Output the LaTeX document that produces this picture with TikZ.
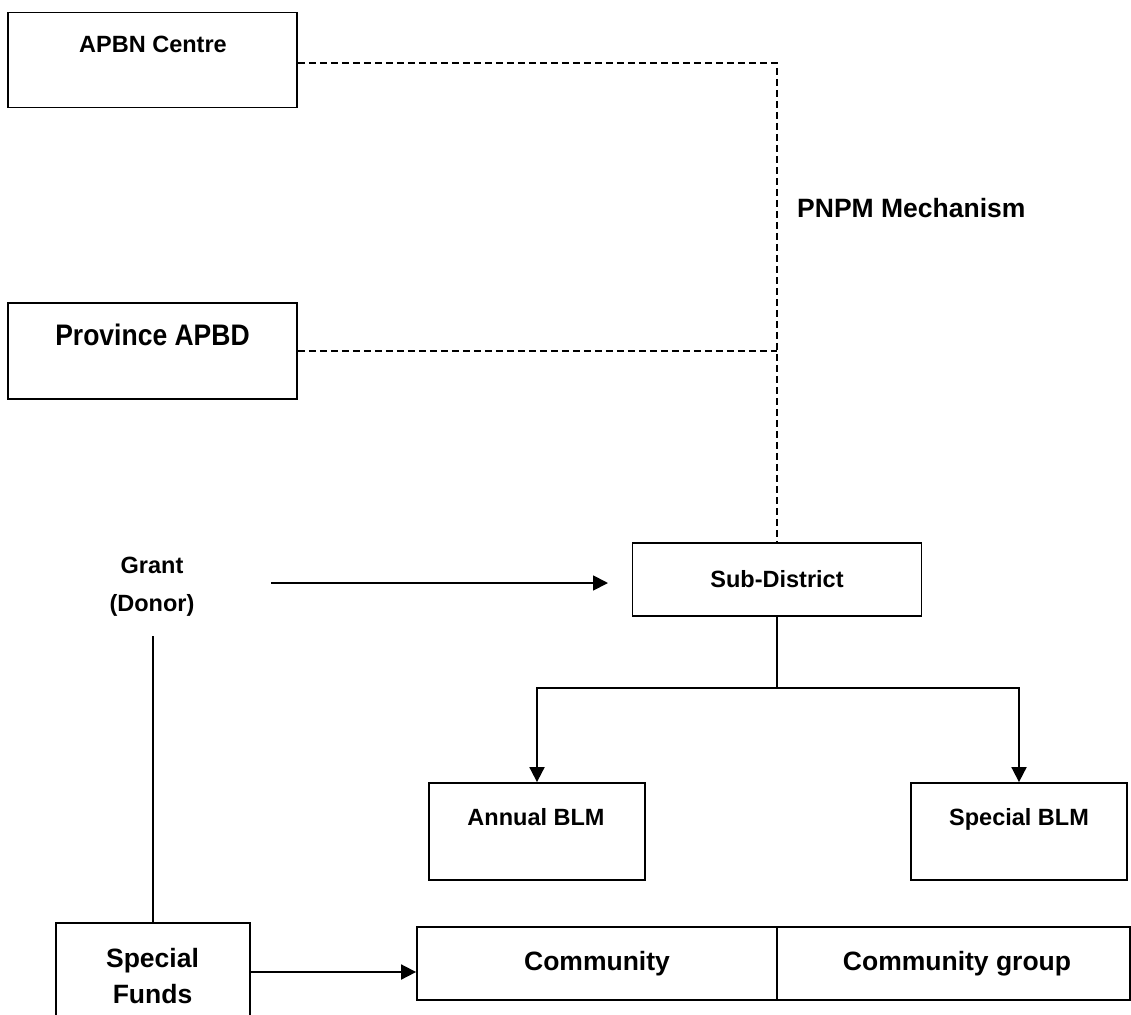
\documentclass[tikz,border=0pt]{standalone}
\usepackage{fontspec}
\setmainfont{Liberation Sans}
\usetikzlibrary{arrows.meta}
\begin{document}
\begin{tikzpicture}[x=1pt,y=-1pt,
  box/.style={draw, line width=1.8pt, inner sep=0pt, rectangle},
  txt/.style={font=\bfseries\fontsize{23.5}{28}\selectfont, inner sep=0pt, anchor=base},
  bigtxt/.style={font=\bfseries\fontsize{26.5}{32}\selectfont, inner sep=0pt, anchor=base},
  link/.style={line width=1.8pt},
  dashlink/.style={line width=1.8pt, dash pattern=on 7pt off 4pt},
  flow/.style={line width=1.8pt, -{Triangle[length=15pt,width=15pt]}}]
\useasboundingbox (0,0) rectangle (1131,1014);

% boxes
\node[box, minimum width=289pt, minimum height=95pt] (apbn) at (152.5,60) {};
\node[box, minimum width=289pt, minimum height=96pt] (prov) at (152.5,351) {};
\node[box, minimum width=289pt, minimum height=73pt] (sub) at (777,579.5) {};
\node[box, minimum width=216pt, minimum height=97pt] (annual) at (537,831.5) {};
\node[box, minimum width=216pt, minimum height=97pt] (special) at (1019,831.5) {};
\node[box, minimum width=194pt, minimum height=117pt] (funds) at (153,981.5) {};
\node[box, minimum width=360pt, minimum height=73pt] (comm) at (597,963.5) {};
\node[box, minimum width=353pt, minimum height=73pt] (group) at (953.5,963.5) {};

% labels
\node[txt] (tapbn) at (153,53) {APBN Centre};
\node[bigtxt] (tprov) at (152.5,345) {\scalebox{1}[1.12]{Province APBD}};
\node[bigtxt, anchor=base west] (tpnpm) at (797,217) {PNPM Mechanism};
\node[txt] (tsub) at (777,587) {Sub-District};
\node[txt] (tgrant) at (152,573) {Grant};
\node[txt] (tdonor) at (152,611) {(Donor)};
\node[txt] (tannual) at (536,825) {Annual BLM};
\node[txt] (tspecial) at (1019,825) {Special BLM};
\node[bigtxt] (tfunds1) at (152.5,967) {Special};
\node[bigtxt] (tfunds2) at (152.5,1003) {Funds};
\node[bigtxt] (tcomm) at (597,970) {Community};
\node[bigtxt] (tgroup) at (957,970) {Community group};

% coordinates for free ends
\coordinate (gstart) at (271,583);
\coordinate (gend) at (608,583);
\coordinate (gline) at (153,636);
\coordinate (split) at (777,688);
\coordinate (fstart) at (250,972);

% PNPM mechanism (dashed)
\draw[dashlink] ([yshift=-3pt]apbn.east) -| (sub.north);
\draw[dashlink] (prov.east) -- (prov.east -| sub.north);

% grant flows
\draw[flow] (gstart) -- (gend);
\draw[link] (gline) -- (funds.north);

% sub-district split
\draw[link] (sub.south) -- (split);
\draw[flow] (split) -| (annual.north);
\draw[flow] (split) -| (special.north);

% special funds to community
\draw[flow] (fstart) -- (fstart -| comm.west);
\end{tikzpicture}
\end{document}
